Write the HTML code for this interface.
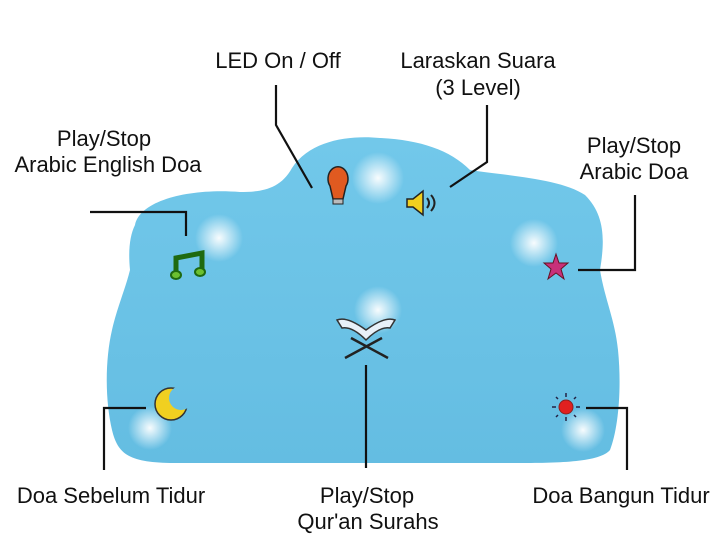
<!DOCTYPE html>
<html><head><style>
body{margin:0;background:#fff;}
svg{display:block}
text{font-family:"Liberation Sans",sans-serif;font-size:22px;fill:#111;}
</style></head><body>
<svg width="720" height="538" viewBox="0 0 720 538">
<defs>
<radialGradient id="glow"><stop offset="0" stop-color="#fff" stop-opacity="0.95"/><stop offset="1" stop-color="#fff" stop-opacity="0"/></radialGradient>
<linearGradient id="body" x1="0" y1="0" x2="0" y2="1"><stop offset="0" stop-color="#72c8ea"/><stop offset="1" stop-color="#64bde2"/></linearGradient>
<mask id="moon"><rect x="0" y="0" width="720" height="538" fill="#fff"/><circle cx="181" cy="398" r="12" fill="#000"/></mask>
</defs>
<path d="M135,225 C140,200 190,188 240,192 C260,192 280,190 292,168 C310,140 350,135 380,138 C420,140 450,150 470,170 C500,175 560,178 585,195 C605,215 605,240 600,270 C605,300 615,320 618,350 C622,390 618,430 610,450 C600,462 560,463 520,463 L170,463 C130,462 118,455 112,430 C105,400 105,360 112,330 C118,305 125,290 130,270 C128,250 130,235 135,225 Z" fill="url(#body)"/>
<g fill="url(#glow)">
<circle cx="378" cy="178" r="26"/><circle cx="219" cy="238" r="24"/><circle cx="534" cy="243" r="24"/>
<circle cx="378" cy="310" r="24"/><circle cx="150" cy="428" r="22"/><circle cx="583" cy="430" r="22"/>
</g>
<path d="M330,186 a10,12 0 1 1 16,0 l-3,13 h-10 z" fill="#e05a20" stroke="#222" stroke-width="1.5"/>
<rect x="333" y="199" width="10" height="5" fill="#bbb" stroke="#222"/>
<path d="M407,199 h6 l10,-8 v24 l-10,-8 h-6 z" fill="#f0d020" stroke="#222" stroke-width="1.5"/>
<path d="M427,198 q4,5 0,10 M431,195 q7,8 0,16" fill="none" stroke="#222" stroke-width="2"/>
<path d="M176,274 l0,-16 l26,-5 v17" fill="none" stroke="#1f6a10" stroke-width="5"/>
<ellipse cx="176" cy="275" rx="5" ry="4" fill="#6cc030" stroke="#1f6a10" stroke-width="2"/>
<ellipse cx="200" cy="272" rx="5" ry="4" fill="#6cc030" stroke="#1f6a10" stroke-width="2"/>
<polygon points="556,254 559,263 568,263 561,269 564,279 556,273 548,279 551,269 544,263 553,263" fill="#c8307a" stroke="#612" stroke-width="1"/>
<path d="M337,320 q10,-4 29,10 q19,-14 29,-10 l-5,8 q-10,-2 -24,12 q-14,-14 -24,-12 z" fill="#e8f0f8" stroke="#333" stroke-width="1.5"/>
<path d="M345,358 l37,-20 M388,358 l-37,-20" stroke="#222" stroke-width="2.5"/>
<circle cx="171" cy="404" r="16" fill="#f0d020" stroke="#333" stroke-width="1.5" mask="url(#moon)"/>
<circle cx="566" cy="407" r="7" fill="#e02020" stroke="#822"/>
<g stroke="#224" stroke-width="1.5"><path d="M566,393 v4 M566,417 v4 M552,407 h4 M576,407 h4 M556,397 l2,2 M574,415 l2,2 M576,397 l-2,2 M556,417 l2,-2"/></g>
<g fill="none" stroke="#111" stroke-width="2.2">
<path d="M276,85 V125 L312,188"/>
<path d="M487,105 V162 L450,187"/>
<path d="M90,212 H186 V236"/>
<path d="M578,270 H635 V195"/>
<path d="M146,408 H104 V470"/>
<path d="M586,408 H627 V470"/>
<path d="M366,365 V468"/>
</g>
<g text-anchor="middle">
<text x="278" y="68">LED On / Off</text>
<text x="478" y="68">Laraskan Suara</text>
<text x="478" y="95">(3 Level)</text>
<text x="104" y="146">Play/Stop</text>
<text x="108" y="172">Arabic English Doa</text>
<text x="634" y="153">Play/Stop</text>
<text x="634" y="179">Arabic Doa</text>
<text x="111" y="503">Doa Sebelum Tidur</text>
<text x="367" y="503">Play/Stop</text>
<text x="368" y="529">Qur'an Surahs</text>
<text x="621" y="503">Doa Bangun Tidur</text>
</g>
</svg>
</body></html>
